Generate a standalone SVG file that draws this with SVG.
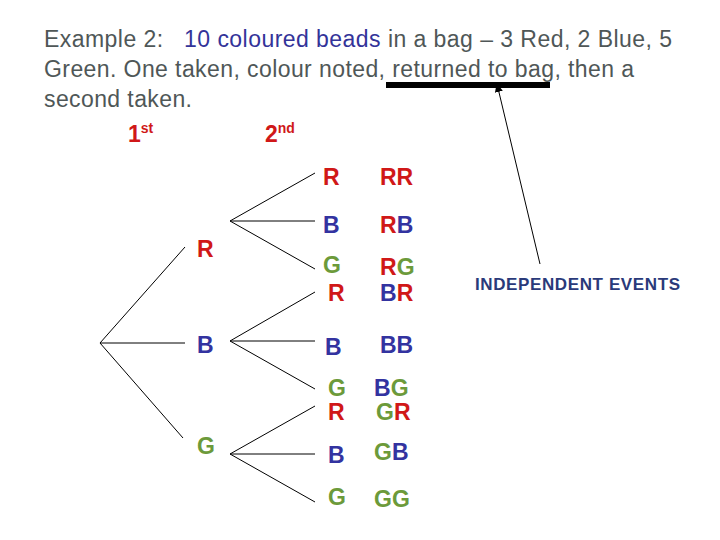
<svg xmlns="http://www.w3.org/2000/svg" width="720" height="540" viewBox="0 0 720 540">
<style>
.t{font-family:"Liberation Sans",Arial,sans-serif;font-size:23px;fill:#4f5757}
.b{font-family:"Liberation Sans",Arial,sans-serif;font-size:23px;font-weight:bold}
.r{fill:#d01818}.u{fill:#3333a0}.g{fill:#6c9a3a}
.l{stroke:#000;stroke-width:1;fill:none}
</style>
<defs><marker id="ah" markerWidth="10" markerHeight="10" refX="8" refY="5" orient="auto"><path d="M0,1 L9,5 L0,9 z" fill="#000"/></marker></defs>
<rect width="720" height="540" fill="#fff"/>
<g id="title">
<text class="t" x="44" y="47" textLength="628" xml:space="preserve">Example 2:   <tspan style="fill:#333399">10 coloured beads</tspan> in a bag – 3 Red, 2 Blue, 5</text>
<text class="t" x="44" y="77" textLength="590">Green. One taken, colour noted, returned to bag, then a</text>
<text class="t" x="44" y="107" textLength="148">second taken.</text>
<rect x="386" y="82" width="164" height="6" fill="#000"/>
</g>
<g id="headers">
<text class="b r" x="128" y="142" font-size="22">1<tspan font-size="14" dy="-9">st</tspan></text>
<text class="b r" x="265" y="142" font-size="22">2<tspan font-size="14" dy="-9">nd</tspan></text>
</g>
<g id="connectors">
<path class="l" d="M100,343 L185,247 M100,343 L185,343 M100,343 L183,438"/>
<path class="l" d="M230,221 L315,173 M230,221 L315,221 M230,221 L315,269"/>
<path class="l" d="M230,341 L315,292 M230,341 L315,341 M230,341 L315,389"/>
<path class="l" d="M230,454 L315,406 M230,454 L315,454 M230,454 L315,502"/>
<line class="l" x1="540" y1="264" x2="497" y2="84" marker-end="url(#ah)"/>
</g>
<g id="first">
<text class="b r" x="197" y="257">R</text>
<text class="b u" x="197" y="353">B</text>
<text class="b g" x="197" y="454">G</text>
</g>
<g id="second">
<text class="b r" x="323" y="185">R</text>
<text class="b u" x="323" y="233">B</text>
<text class="b g" x="323" y="273">G</text>
<text class="b r" x="328" y="301">R</text>
<text class="b u" x="325" y="355">B</text>
<text class="b g" x="328" y="396">G</text>
<text class="b r" x="328" y="420">R</text>
<text class="b u" x="328" y="463">B</text>
<text class="b g" x="328" y="505">G</text>
</g>
<g id="outcomes">
<text class="b" x="380" y="185"><tspan class="r">RR</tspan></text>
<text class="b" x="380" y="233"><tspan class="r">R</tspan><tspan class="u">B</tspan></text>
<text class="b" x="380" y="275"><tspan class="r">R</tspan><tspan class="g">G</tspan></text>
<text class="b" x="380" y="301"><tspan class="u">B</tspan><tspan class="r">R</tspan></text>
<text class="b" x="380" y="353"><tspan class="u">BB</tspan></text>
<text class="b" x="374" y="396"><tspan class="u">B</tspan><tspan class="g">G</tspan></text>
<text class="b" x="376" y="420"><tspan class="g">G</tspan><tspan class="r">R</tspan></text>
<text class="b" x="374" y="460"><tspan class="g">G</tspan><tspan class="u">B</tspan></text>
<text class="b" x="374" y="507"><tspan class="g">GG</tspan></text>
</g>
<g id="label">
<text x="475" y="290" textLength="205" style="font-family:'Liberation Sans',Arial,sans-serif;font-size:17px;font-weight:bold;fill:#2a3a7a">INDEPENDENT EVENTS</text>
</g>
</svg>
